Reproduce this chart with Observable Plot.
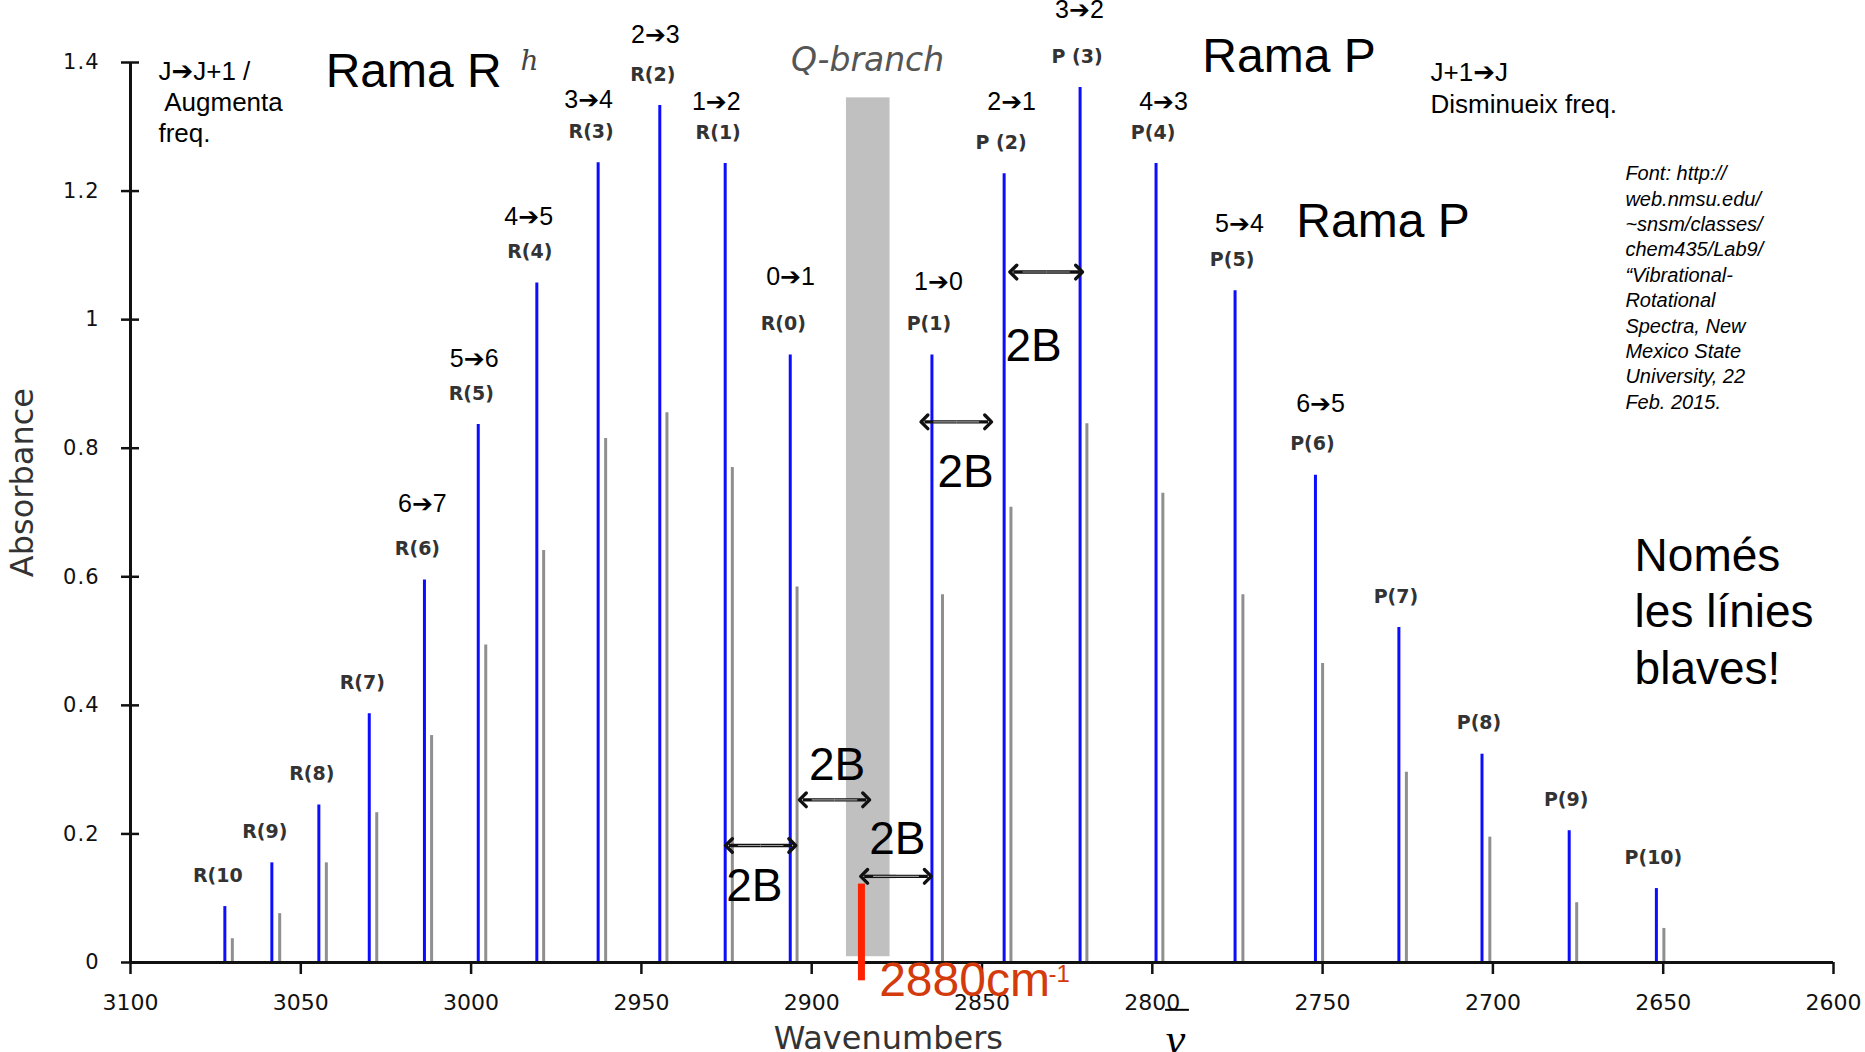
<!DOCTYPE html>
<html>
<head>
<meta charset="utf-8">
<script src="https://cdn.jsdelivr.net/npm/d3@7"></script>
<script src="https://cdn.jsdelivr.net/npm/@observablehq/plot@0.6"></script>
<style>
  html, body { margin: 0; padding: 0; background: #fff; overflow: hidden; }
  #chart svg { display: block; }
  g[aria-label="q-branch"] text { letter-spacing: 3px; }
  g[aria-label="y-axis tick label"] text { letter-spacing: 1px; }
  g[aria-label="spacing-arrow"] marker path { stroke-width: 2.2; }
</style>
</head>
<body>
<div id="chart"></div>
<script>
// ---- data ----
const branchLabels = ["R(10","R(9)","R(8)","R(7)","R(6)","R(5)","R(4)","R(3)","R(2)","R(1)","R(0)",
                      "P(1)","P (2)","P (3)","P(4)","P(5)","P(6)","P(7)","P(8)","P(9)","P(10)"];
const blueWavenumber = [3072.3,3058.5,3044.7,3029.9,3013.7,2997.9,2980.7,2962.7,2944.6,2925.4,2906.3,
                        2864.7,2843.5,2821.2,2798.9,2775.7,2752.1,2727.6,2703.2,2677.6,2652.0];
const blueAbsorbance = [0.087,0.155,0.245,0.387,0.595,0.837,1.057,1.244,1.333,1.243,0.945,
                        0.945,1.227,1.361,1.243,1.045,0.758,0.521,0.324,0.205,0.115];
const grayWavenumber = [3070.1,3056.2,3042.5,3027.7,3011.6,2995.7,2978.7,2960.5,2942.5,2923.3,2904.3,
                        2861.6,2841.5,2819.2,2796.9,2773.4,2750.0,2725.4,2700.9,2675.4,2649.8];
const grayAbsorbance = [0.037,0.076,0.155,0.233,0.353,0.494,0.641,0.815,0.855,0.770,0.584,
                        0.572,0.708,0.838,0.730,0.572,0.465,0.296,0.195,0.093,0.053];
const xTicks = [3100,3050,3000,2950,2900,2850,2800,2750,2700,2650,2600];
const yTicks = [0,0.2,0.4,0.6,0.8,1.0,1.2,1.4];

// ---- annotations (data units) ----
const transitionText = ["6➔7","5➔6","4➔5","3➔4","2➔3","1➔2","0➔1","1➔0","2➔1","3➔2","4➔3","5➔4","6➔5"];
const transitionX = [3014.3,2999.1,2983.1,2965.5,2945.9,2928.0,2906.2,2862.8,2841.3,2821.4,2796.7,2774.4,2750.6];
const transitionY = [0.713,0.939,1.159,1.341,1.443,1.339,1.066,1.058,1.339,1.482,1.339,1.149,0.869];
const spacingText = ["2B","2B","2B","2B","2B"];
const spacingX = [2843.1,2863.1,2900.8,2883.1,2925.1];
const spacingY = [0.936,0.740,0.284,0.169,0.095];
const arrowX1 = [2840.8,2866.9,2902.6,2884.6,2924.3];
const arrowX2 = [2821.5,2848.2,2884.0,2865.9,2905.7];
const arrowY = [1.074,0.841,0.253,0.134,0.182];
const qBranchBand = [{x1: 2889.8, x2: 2877.0, y1: 0.009, y2: 1.345}];
const bandOrigin = [{x: 2885.4, y1: -0.0285, y2: 0.122}];

const lines = branchLabels.map((label, i) => ({
  label, branch: label[0],
  blueX: blueWavenumber[i], blueY: blueAbsorbance[i],
  grayX: grayWavenumber[i], grayY: grayAbsorbance[i]
}));
const transitions = transitionText.map((t, i) => ({t, x: transitionX[i], y: transitionY[i]}));
const spacings = spacingText.map((t, i) => ({t, x: spacingX[i], y: spacingY[i]}));
const arrowHalves = arrowX1.flatMap((x1, i) => {
  const m = (x1 + arrowX2[i]) / 2;
  return [{a: m, b: x1, y: arrowY[i]}, {a: m, b: arrowX2[i], y: arrowY[i]}];
});
const arrowInner = arrowX1.map((x1, i) => {
  const m = (x1 + arrowX2[i]) / 2, h = (arrowX2[i] - x1) / 2;
  return {a: m - h * 0.72, b: m + h * 0.72, y: arrowY[i]};
});

const SANS = "'Liberation Sans', Arial, 'DejaVu Sans', sans-serif";
const PIX = "'DejaVu Sans', sans-serif";

const chart = Plot.plot({
  width: 1865,
  height: 1052,
  marginLeft: 130,
  marginRight: 32,
  marginTop: 62,
  marginBottom: 90,
  x: {domain: [3100, 2600]},
  y: {domain: [0, 1.4]},
  style: {background: "#fff", overflow: "visible"},
  marks: [
    Plot.rect(qBranchBand, {x1: "x1", x2: "x2", y1: "y1", y2: "y2", fill: "#c0c0c0"}),
    Plot.ruleX(lines, {x: "grayX", y1: 0, y2: "grayY", stroke: "#8f8f8f", strokeWidth: 3}),
    Plot.ruleX(lines, {x: "blueX", y1: 0, y2: "blueY", stroke: "#0c0cff", strokeWidth: 3}),

    // axes
    Plot.ruleY([0], {stroke: "#111", strokeWidth: 3}),
    Plot.ruleX([3100], {y1: 0, y2: 1.4, stroke: "#111", strokeWidth: 3}),
    Plot.axisX({ticks: xTicks, tickSize: 12, tickPadding: 20, tickFormat: d => `${d}`,
      fontSize: 22, fontFamily: PIX, color: "#111", strokeWidth: 2.5, label: null}),
    Plot.axisY({ticks: yTicks, tickSize: 18, dx: 9, tickPadding: 22, tickFormat: d => `${+d.toFixed(1)}`,
      fontSize: 21, fontFamily: PIX, color: "#111", strokeWidth: 2.5, label: null}),
    Plot.text([{t: "Absorbance", x: 3131.7, y: 0.7465}], {x: "x", y: "y", text: "t", rotate: -90,
      fontSize: 32, fontFamily: PIX, fill: "#333"}),
    Plot.text([{t: "Wavenumbers", x: 2877.5, y: -0.1343}], {x: "x", y: "y", text: "t", lineAnchor: "bottom",
      fontSize: 32, fontFamily: PIX, fill: "#333"}),

    // line labels
    Plot.text(lines, {filter: d => d.branch === "R", x: "blueX", y: "blueY", text: "label", dy: -31, dx: -7,
      fontSize: 19, fontWeight: "bold", fontFamily: PIX, fill: "#333"}),
    Plot.text(lines, {filter: d => d.branch === "P", x: "blueX", y: "blueY", text: "label", dy: -31, dx: -3,
      fontSize: 19, fontWeight: "bold", fontFamily: PIX, fill: "#333"}),
    Plot.text(transitions, {x: "x", y: "y", text: "t", fontSize: 25, fontFamily: SANS, fill: "#000"}),

    // Q branch
    Plot.text([{t: "Q-branch", x: 2883.6, y: 1.3869}], {x: "x", y: "y", text: "t", lineAnchor: "bottom",
      fontSize: 33, fontStyle: "italic", fontFamily: PIX, fill: "#555", ariaLabel: "q-branch"}),

    // spacing arrows and 2B
    Plot.link(arrowHalves, {x1: "a", x2: "b", y1: "y", y2: "y", stroke: "#111", strokeWidth: 3.4,
      markerEnd: "arrow", ariaLabel: "spacing-arrow"}),
    Plot.link(arrowInner, {x1: "a", x2: "b", y1: "y", y2: "y", stroke: "#9a9a9a", strokeWidth: 1.1}),
    Plot.text(spacings, {x: "x", y: "y", text: "t", textAnchor: "start", lineAnchor: "bottom",
      fontSize: 46, fontFamily: SANS, fill: "#000"}),

    // band origin
    Plot.ruleX(bandOrigin, {x: "x", y1: "y1", y2: "y2", stroke: "#ff2200", strokeWidth: 7}),
    Plot.text([{t: "2880cm", x: 2880.2, y: -0.0518}], {x: "x", y: "y", text: "t", textAnchor: "start", lineAnchor: "bottom",
      fontSize: 48, fontFamily: SANS, fill: "#d33a0c"}),
    Plot.text([{t: "-1", x: 2830.5, y: -0.0311}], {x: "x", y: "y", text: "t", textAnchor: "start", lineAnchor: "bottom",
      fontSize: 24, fontFamily: SANS, fill: "#d33a0c"}),

    // nu-bar symbol
    Plot.ruleY([{y: -0.0736, x1: 2796.1, x2: 2789.1}], {y: "y", x1: "x1", x2: "x2", stroke: "#000", strokeWidth: 2}),
    Plot.text([{t: "ν", x: 2793.2, y: -0.142}], {x: "x", y: "y", text: "t", lineAnchor: "bottom",
      fontSize: 44, fontStyle: "italic", fontFamily: "'Liberation Serif', 'DejaVu Serif', serif", fill: "#000"}),

    // headings and notes
    Plot.text([{t: "Rama R", x: 3042.7, y: 1.3612}, {t: "Rama P", x: 2785.3, y: 1.3845}, {t: "Rama P", x: 2757.7, y: 1.1283}],
      {x: "x", y: "y", text: "t", textAnchor: "start", lineAnchor: "bottom", fontSize: 48, fontFamily: SANS, fill: "#000"}),
    Plot.text([{t: "h", x: 2985.5, y: 1.388}], {x: "x", y: "y", text: "t", textAnchor: "start", lineAnchor: "bottom",
      fontSize: 28, fontStyle: "italic", fontFamily: "'DejaVu Serif', serif", fill: "#444"}),
    Plot.text([{t: "J➔J+1 /\n Augmenta\nfreq.", x: 3091.8, y: 1.2756}, {t: "J+1➔J\nDisminueix freq.", x: 2718.3, y: 1.322}],
      {x: "x", y: "y", text: "t", textAnchor: "start", lineAnchor: "bottom", lineHeight: 1.2,
       fontSize: 26, fontFamily: SANS, fill: "#000"}),
    Plot.text([{t: "Font: http://\nweb.nmsu.edu/\n~snsm/classes/\nchem435/Lab9/\n“Vibrational-\nRotational\nSpectra, New\nMexico State\nUniversity, 22\nFeb. 2015.", x: 2661.1, y: 0.8612}],
      {x: "x", y: "y", text: "t", textAnchor: "start", lineAnchor: "bottom", lineHeight: 1.27,
       fontSize: 20, fontStyle: "italic", fontFamily: SANS, fill: "#000"}),
    Plot.text([{t: "Només\nles línies\nblaves!", x: 2658.4, y: 0.4337}],
      {x: "x", y: "y", text: "t", textAnchor: "start", lineAnchor: "bottom", lineHeight: 1.228,
       fontSize: 46, fontFamily: SANS, fill: "#000"})
  ]
});

document.getElementById("chart").appendChild(chart);
</script>
</body>
</html>
